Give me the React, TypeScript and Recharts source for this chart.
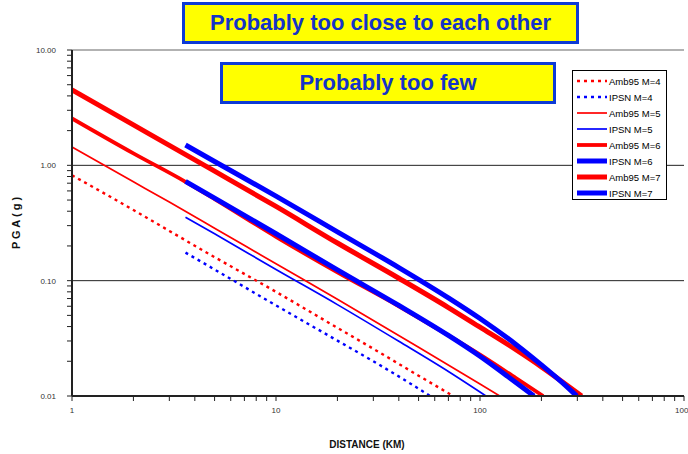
import { LineChart, Line, XAxis, YAxis, ReferenceLine } from 'recharts';

// PGA (g) versus distance (km)
const amb95M4 = [
  { dist: 1, pga: 0.82 }, { dist: 2, pga: 0.41 }, { dist: 3, pga: 0.27 }, { dist: 5, pga: 0.16 },
  { dist: 10, pga: 0.08 }, { dist: 20, pga: 0.039 }, { dist: 32, pga: 0.024 }, { dist: 50, pga: 0.015 },
  { dist: 74, pga: 0.01 },
];
const ipsnM4 = [
  { dist: 3.6, pga: 0.175 }, { dist: 5, pga: 0.125 }, { dist: 10, pga: 0.061 }, { dist: 20, pga: 0.0302 },
  { dist: 32, pga: 0.0187 }, { dist: 45, pga: 0.013 }, { dist: 57, pga: 0.01 },
];
const amb95M5 = [
  { dist: 1, pga: 1.44 }, { dist: 2, pga: 0.72 }, { dist: 3, pga: 0.48 }, { dist: 5, pga: 0.285 },
  { dist: 10, pga: 0.14 }, { dist: 20, pga: 0.069 }, { dist: 50, pga: 0.0265 }, { dist: 100, pga: 0.0127 },
  { dist: 125, pga: 0.01 },
];
const ipsnM5 = [
  { dist: 3.6, pga: 0.355 }, { dist: 5, pga: 0.255 }, { dist: 10, pga: 0.125 }, { dist: 20, pga: 0.062 },
  { dist: 40, pga: 0.0298 }, { dist: 70, pga: 0.0163 }, { dist: 107, pga: 0.01 },
];
const amb95M6 = [
  { dist: 1, pga: 2.55 }, { dist: 2, pga: 1.27 }, { dist: 3.6, pga: 0.72 }, { dist: 5, pga: 0.51 },
  { dist: 10, pga: 0.24 }, { dist: 20, pga: 0.118 }, { dist: 40, pga: 0.06 }, { dist: 70, pga: 0.0335 },
  { dist: 100, pga: 0.0228 }, { dist: 150, pga: 0.0143 }, { dist: 204, pga: 0.01 },
];
const ipsnM6 = [
  { dist: 3.6, pga: 0.726 }, { dist: 5, pga: 0.52 }, { dist: 10, pga: 0.255 }, { dist: 20, pga: 0.124 },
  { dist: 40, pga: 0.061 }, { dist: 70, pga: 0.0335 }, { dist: 100, pga: 0.0221 }, { dist: 140, pga: 0.0143 },
  { dist: 184, pga: 0.01 },
];
const amb95M7 = [
  { dist: 1, pga: 4.5 }, { dist: 2, pga: 2.24 }, { dist: 3, pga: 1.49 }, { dist: 5, pga: 0.89 },
  { dist: 10, pga: 0.44 }, { dist: 20, pga: 0.212 }, { dist: 40, pga: 0.105 }, { dist: 70, pga: 0.0585 },
  { dist: 100, pga: 0.0395 }, { dist: 150, pga: 0.0252 }, { dist: 200, pga: 0.0179 }, { dist: 250, pga: 0.0135 },
  { dist: 315, pga: 0.01 },
];
const ipsnM7 = [
  { dist: 3.6, pga: 1.5 }, { dist: 5, pga: 1.08 }, { dist: 10, pga: 0.54 }, { dist: 20, pga: 0.265 },
  { dist: 40, pga: 0.13 }, { dist: 70, pga: 0.071 }, { dist: 100, pga: 0.047 }, { dist: 150, pga: 0.028 },
  { dist: 200, pga: 0.0186 }, { dist: 250, pga: 0.0133 }, { dist: 298, pga: 0.01 },
];

const xTicks = [
  1, 2, 3, 4, 5, 6, 7, 8, 9, 10, 20, 30, 40, 50, 60, 70, 80, 90,
  100, 200, 300, 400, 500, 600, 700, 800, 900, 1000,
];
const yTicks = [
  0.01, 0.02, 0.03, 0.04, 0.05, 0.06, 0.07, 0.08, 0.09, 0.1, 0.2, 0.3, 0.4, 0.5, 0.6, 0.7, 0.8, 0.9,
  1, 2, 3, 4, 5, 6, 7, 8, 9, 10,
];
const xMajor = [1, 10, 100, 1000];
const yMajor = [0.01, 0.1, 1, 10];

const RED = '#ff0000';
const BLUE = '#0000ff';

const series = [
  { name: 'Amb95 M=4', data: amb95M4, color: RED, width: 2.4, dash: '3 4' },
  { name: 'IPSN M=4', data: ipsnM4, color: BLUE, width: 2.4, dash: '3 4' },
  { name: 'Amb95 M=5', data: amb95M5, color: RED, width: 1.7, dash: undefined },
  { name: 'IPSN M=5', data: ipsnM5, color: BLUE, width: 1.7, dash: undefined },
  { name: 'Amb95 M=6', data: amb95M6, color: RED, width: 3.8, dash: undefined },
  { name: 'IPSN M=6', data: ipsnM6, color: BLUE, width: 5, dash: undefined },
  { name: 'Amb95 M=7', data: amb95M7, color: RED, width: 5, dash: undefined },
  { name: 'IPSN M=7', data: ipsnM7, color: BLUE, width: 5, dash: undefined },
];

const FONT = 'Liberation Sans, Arial, sans-serif';
const tickFont = { fontSize: 8, fill: '#333', fontFamily: FONT };

function LegendBox() {
  return (
    <div
      style={{
        position: 'absolute',
        left: 572,
        top: 70,
        border: '1px solid #000',
        background: '#fff',
        boxSizing: 'border-box',
        width: 95,
        height: 130,
        paddingTop: 2,
        fontFamily: FONT,
        fontSize: 9.5,
        color: '#000',
      }}
    >
      {series.map((s) => (
        <div key={s.name} style={{ height: 16, display: 'flex', alignItems: 'center' }}>
          <svg width={36} height={16} style={{ display: 'block' }}>
            <line x1={4} y1={8} x2={34} y2={8} stroke={s.color} strokeWidth={s.width} strokeDasharray={s.dash} />
          </svg>
          <span>{s.name}</span>
        </div>
      ))}
    </div>
  );
}

const boxStyle = {
  position: 'absolute' as const,
  background: '#ffff00',
  border: '3px solid #0d3bd6',
  boxSizing: 'border-box' as const,
  color: '#1434c8',
  fontFamily: FONT,
  fontWeight: 'bold' as const,
  fontSize: 22,
  display: 'flex',
  alignItems: 'center',
  justifyContent: 'center',
};

export default function App() {
  return (
    <div style={{ position: 'absolute', left: 0, top: 0, width: 688, height: 454, background: '#fff' }}>
      <LineChart width={688} height={454} margin={{ top: 50, right: 4, bottom: 0, left: 0 }}>
        <XAxis
          dataKey="dist"
          type="number"
          scale="log"
          domain={[1, 1000]}
          allowDataOverflow
          ticks={xTicks}
          interval={0}
          tickFormatter={(v: number) => (xMajor.includes(v) ? String(v) : '')}
          tick={tickFont}
          tickSize={5}
          tickMargin={6}
          tickLine={{ stroke: '#222' }}
          axisLine={{ stroke: '#222', strokeWidth: 2 }}
          height={58}
          label={{
            value: 'DISTANCE (KM)',
            position: 'insideBottom',
            offset: 6,
            dx: -11,
            style: { fontSize: 10, fontWeight: 'bold', fill: '#111', fontFamily: FONT },
          }}
        />
        <YAxis
          dataKey="pga"
          type="number"
          scale="log"
          domain={[0.01, 10]}
          allowDataOverflow
          ticks={yTicks}
          interval={0}
          tickFormatter={(v: number) => (yMajor.includes(v) ? v.toFixed(2) : '')}
          tick={tickFont}
          tickSize={5}
          tickMargin={11}
          tickLine={{ stroke: '#222' }}
          axisLine={{ stroke: '#222', strokeWidth: 2 }}
          width={72}
          label={{
            value: 'P G A  ( g )',
            angle: -90,
            position: 'insideLeft',
            offset: 16,
            style: {
              fontSize: 11,
              fontWeight: 'bold',
              fill: '#111',
              whiteSpace: 'pre',
              textAnchor: 'middle',
              fontFamily: FONT,
            },
          }}
        />
        <ReferenceLine y={10} stroke="#999" strokeWidth={1.5} />
        <ReferenceLine y={1} stroke="#222" strokeWidth={1} />
        <ReferenceLine y={0.1} stroke="#222" strokeWidth={1} />
        {series.map((s) => (
          <Line
            key={s.name}
            name={s.name}
            data={s.data}
            dataKey="pga"
            type="monotone"
            stroke={s.color}
            strokeWidth={s.width}
            strokeDasharray={s.dash}
            strokeLinecap="butt"
            dot={false}
            activeDot={false}
            isAnimationActive={false}
          />
        ))}
      </LineChart>
      <LegendBox />
      <div style={{ ...boxStyle, left: 182, top: 2, width: 397, height: 42 }}>Probably too close to each other</div>
      <div style={{ ...boxStyle, left: 220, top: 62, width: 336, height: 42 }}>Probably too few</div>
    </div>
  );
}
